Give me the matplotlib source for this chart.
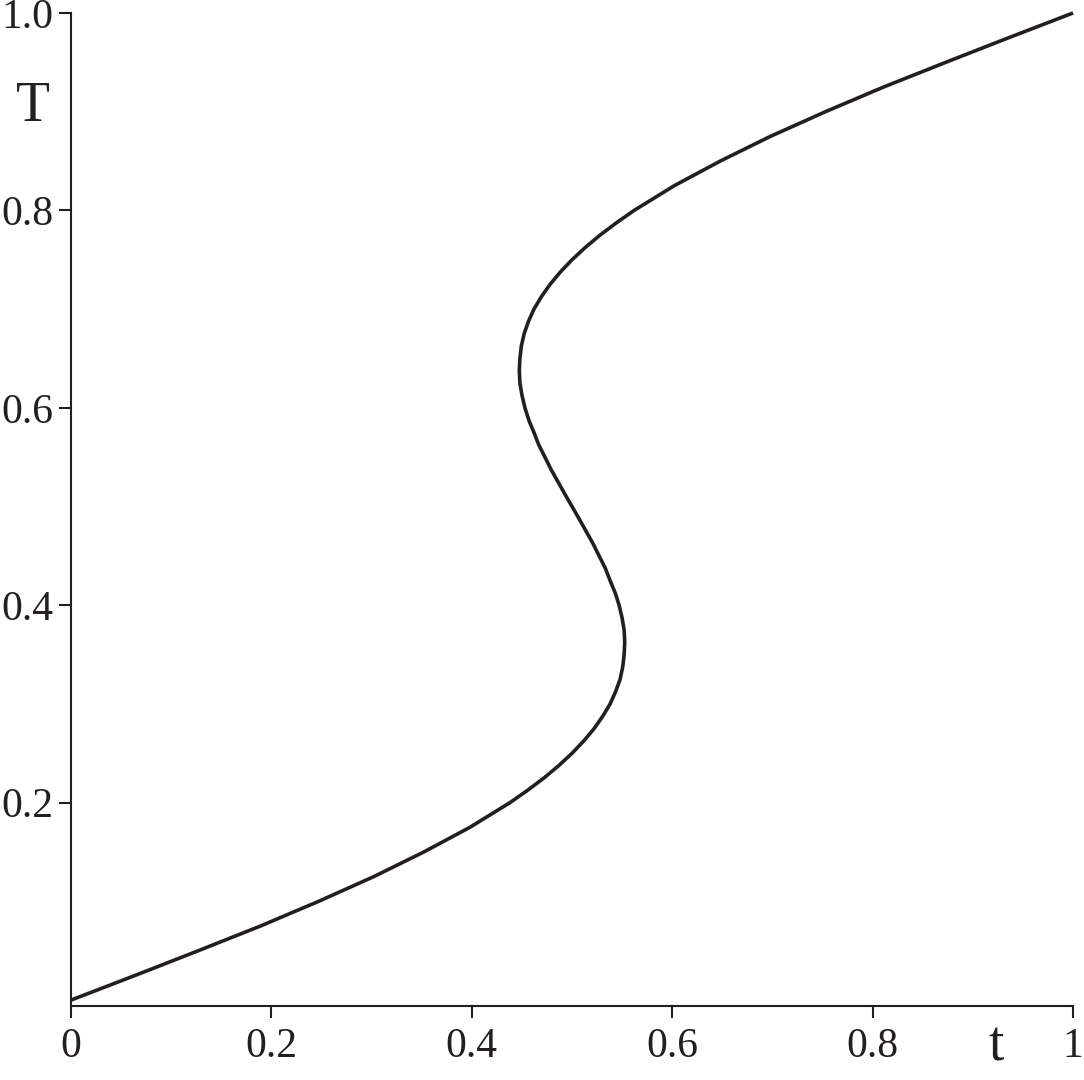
import matplotlib
matplotlib.use("Agg")
import matplotlib.pyplot as plt

# curve: t (horizontal) for each T (vertical)
T_vals = [0.0, 0.025, 0.05, 0.075, 0.1, 0.125, 0.15, 0.175, 0.2, 0.2125,
          0.225, 0.2375, 0.25, 0.2625, 0.275, 0.2875, 0.3, 0.3125, 0.325, 0.3375,
          0.35, 0.3625, 0.375, 0.3875, 0.4, 0.4125, 0.425, 0.4375, 0.45, 0.4625,
          0.475, 0.4875, 0.5, 0.5125, 0.525, 0.5375, 0.55, 0.5625, 0.575, 0.5875,
          0.6, 0.6125, 0.625, 0.6375, 0.65, 0.6625, 0.675, 0.6875, 0.7, 0.7125,
          0.725, 0.7375, 0.75, 0.7625, 0.775, 0.7875, 0.8, 0.825, 0.85, 0.875,
          0.9, 0.925, 0.95, 0.975, 1.0]
t_vals = [0.0, 0.064, 0.127, 0.189, 0.247, 0.302, 0.352, 0.398, 0.438, 0.4556,
          0.472, 0.4867, 0.500, 0.5117, 0.522, 0.5306, 0.538, 0.5435, 0.548, 0.5506,
          0.552, 0.5526, 0.552, 0.5499, 0.547, 0.5431, 0.538, 0.5332, 0.527, 0.5209,
          0.514, 0.5071, 0.500, 0.4929, 0.486, 0.4791, 0.473, 0.4668, 0.462, 0.4569,
          0.453, 0.4501, 0.448, 0.4474, 0.448, 0.4494, 0.4522, 0.4565, 0.462, 0.4694,
          0.478, 0.4883, 0.500, 0.5133, 0.528, 0.5444, 0.562, 0.602, 0.648, 0.698,
          0.753, 0.811, 0.873, 0.936, 1.0]

x_ticks = [0, 0.2, 0.4, 0.6, 0.8, 1.0]
x_labels = ["0", "0.2", "0.4", "0.6", "0.8", "1"]
y_ticks = [0.2, 0.4, 0.6, 0.8, 1.0]
y_labels = ["0.2", "0.4", "0.6", "0.8", "1.0"]

plt.rcParams['font.family'] = ['Liberation Serif', 'DejaVu Serif']
ink = '#231f20'

fig = plt.figure(figsize=(10.84, 10.80), dpi=100)
ax = fig.add_axes([0.0655, 0.0685, 0.9244, 0.9195])

ax.plot(t_vals, T_vals, color=ink, lw=2.6, clip_on=False,
        solid_capstyle='butt', solid_joinstyle='round')

ax.set_xlim(0, 1)
ax.set_ylim(-0.006, 1.0)
for s in ['top', 'right']:
    ax.spines[s].set_visible(False)
for s in ['left', 'bottom']:
    ax.spines[s].set_color(ink)
    ax.spines[s].set_linewidth(1.5)

ax.set_xticks(x_ticks)
ax.set_xticklabels(x_labels)
ax.set_yticks(y_ticks)
ax.set_yticklabels(y_labels)
ax.tick_params(direction='out', length=8.5, width=1.5, color=ink,
               labelsize=30, labelcolor=ink)
ax.tick_params(axis='x', pad=7)
ax.tick_params(axis='y', pad=4)

ax.text(-0.038, 0.905, "T", transform=ax.transAxes, fontsize=40,
        color=ink, ha='center', va='center')
ax.text(0.923, -0.041, "t", transform=ax.transAxes, fontsize=40,
        color=ink, ha='center', va='center')

fig.savefig("out.png", dpi=100, facecolor='white')
